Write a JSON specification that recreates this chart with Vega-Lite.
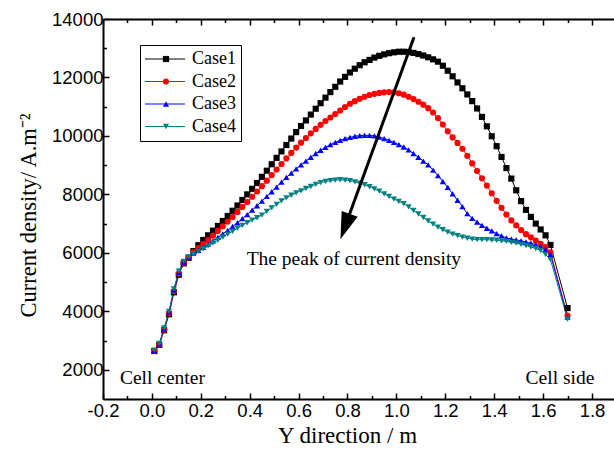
{
  "$schema": "https://vega.github.io/schema/vega-lite/v6.json",
  "autosize": {"type": "none"},
  "width": 511,
  "height": 380,
  "padding": {"left": 103, "top": 19, "right": 0, "bottom": 59},
  "background": "white",
  "config": {"view": {"stroke": null}},
  "datasets": {
    "curves": [
      {"x": 0.01, "Case1": 2640, "Case2": 2650, "Case3": 2660, "Case4": 2670},
      {"x": 0.03, "Case1": 2850, "Case2": 2860, "Case3": 2880, "Case4": 2900},
      {"x": 0.05, "Case1": 3350, "Case2": 3370, "Case3": 3400, "Case4": 3430},
      {"x": 0.07, "Case1": 3900, "Case2": 3930, "Case3": 3970, "Case4": 4000},
      {"x": 0.09, "Case1": 4650, "Case2": 4690, "Case3": 4730, "Case4": 4770},
      {"x": 0.11, "Case1": 5250, "Case2": 5290, "Case3": 5330, "Case4": 5370},
      {"x": 0.13, "Case1": 5640, "Case2": 5660, "Case3": 5680, "Case4": 5710},
      {"x": 0.15, "Case1": 5830, "Case2": 5840, "Case3": 5850, "Case4": 5860},
      {"x": 0.17, "Case1": 6060, "Case2": 6020, "Case3": 5990, "Case4": 5960},
      {"x": 0.19, "Case1": 6260, "Case2": 6160, "Case3": 6090, "Case4": 6050},
      {"x": 0.21, "Case1": 6440, "Case2": 6300, "Case3": 6190, "Case4": 6140},
      {"x": 0.23, "Case1": 6600, "Case2": 6440, "Case3": 6300, "Case4": 6230},
      {"x": 0.25, "Case1": 6760, "Case2": 6590, "Case3": 6410, "Case4": 6330},
      {"x": 0.27, "Case1": 6920, "Case2": 6750, "Case3": 6530, "Case4": 6430},
      {"x": 0.29, "Case1": 7090, "Case2": 6910, "Case3": 6650, "Case4": 6540},
      {"x": 0.31, "Case1": 7260, "Case2": 7070, "Case3": 6770, "Case4": 6640},
      {"x": 0.33, "Case1": 7440, "Case2": 7230, "Case3": 6900, "Case4": 6740},
      {"x": 0.35, "Case1": 7620, "Case2": 7400, "Case3": 7030, "Case4": 6840},
      {"x": 0.37, "Case1": 7810, "Case2": 7570, "Case3": 7170, "Case4": 6940},
      {"x": 0.39, "Case1": 8000, "Case2": 7740, "Case3": 7310, "Case4": 7030},
      {"x": 0.41, "Case1": 8190, "Case2": 7920, "Case3": 7460, "Case4": 7120},
      {"x": 0.43, "Case1": 8390, "Case2": 8100, "Case3": 7610, "Case4": 7200},
      {"x": 0.45, "Case1": 8600, "Case2": 8280, "Case3": 7770, "Case4": 7290},
      {"x": 0.47, "Case1": 8810, "Case2": 8470, "Case3": 7930, "Case4": 7420},
      {"x": 0.49, "Case1": 9030, "Case2": 8660, "Case3": 8090, "Case4": 7540},
      {"x": 0.51, "Case1": 9250, "Case2": 8850, "Case3": 8250, "Case4": 7660},
      {"x": 0.53, "Case1": 9470, "Case2": 9040, "Case3": 8420, "Case4": 7780},
      {"x": 0.55, "Case1": 9690, "Case2": 9230, "Case3": 8580, "Case4": 7880},
      {"x": 0.57, "Case1": 9910, "Case2": 9420, "Case3": 8730, "Case4": 7970},
      {"x": 0.59, "Case1": 10130, "Case2": 9600, "Case3": 8870, "Case4": 8050},
      {"x": 0.61, "Case1": 10340, "Case2": 9770, "Case3": 9010, "Case4": 8120},
      {"x": 0.63, "Case1": 10530, "Case2": 9930, "Case3": 9140, "Case4": 8200},
      {"x": 0.65, "Case1": 10730, "Case2": 10090, "Case3": 9270, "Case4": 8270},
      {"x": 0.67, "Case1": 10930, "Case2": 10240, "Case3": 9400, "Case4": 8340},
      {"x": 0.69, "Case1": 11120, "Case2": 10380, "Case3": 9510, "Case4": 8400},
      {"x": 0.71, "Case1": 11310, "Case2": 10510, "Case3": 9610, "Case4": 8440},
      {"x": 0.73, "Case1": 11500, "Case2": 10630, "Case3": 9700, "Case4": 8470},
      {"x": 0.75, "Case1": 11680, "Case2": 10750, "Case3": 9780, "Case4": 8490},
      {"x": 0.77, "Case1": 11860, "Case2": 10870, "Case3": 9850, "Case4": 8500},
      {"x": 0.79, "Case1": 12020, "Case2": 10990, "Case3": 9910, "Case4": 8490},
      {"x": 0.81, "Case1": 12170, "Case2": 11100, "Case3": 9950, "Case4": 8470},
      {"x": 0.83, "Case1": 12300, "Case2": 11190, "Case3": 9990, "Case4": 8430},
      {"x": 0.85, "Case1": 12420, "Case2": 11270, "Case3": 10010, "Case4": 8380},
      {"x": 0.87, "Case1": 12520, "Case2": 11340, "Case3": 10020, "Case4": 8330},
      {"x": 0.89, "Case1": 12600, "Case2": 11400, "Case3": 10020, "Case4": 8260},
      {"x": 0.91, "Case1": 12680, "Case2": 11440, "Case3": 10000, "Case4": 8190},
      {"x": 0.93, "Case1": 12740, "Case2": 11470, "Case3": 9960, "Case4": 8110},
      {"x": 0.95, "Case1": 12790, "Case2": 11490, "Case3": 9910, "Case4": 8020},
      {"x": 0.97, "Case1": 12830, "Case2": 11500, "Case3": 9850, "Case4": 7930},
      {"x": 0.99, "Case1": 12860, "Case2": 11490, "Case3": 9780, "Case4": 7840},
      {"x": 1.01, "Case1": 12880, "Case2": 11460, "Case3": 9700, "Case4": 7760},
      {"x": 1.03, "Case1": 12880, "Case2": 11410, "Case3": 9620, "Case4": 7680},
      {"x": 1.05, "Case1": 12870, "Case2": 11340, "Case3": 9520, "Case4": 7570},
      {"x": 1.07, "Case1": 12840, "Case2": 11260, "Case3": 9400, "Case4": 7450},
      {"x": 1.09, "Case1": 12800, "Case2": 11170, "Case3": 9270, "Case4": 7330},
      {"x": 1.11, "Case1": 12750, "Case2": 11070, "Case3": 9140, "Case4": 7210},
      {"x": 1.13, "Case1": 12690, "Case2": 10950, "Case3": 9010, "Case4": 7090},
      {"x": 1.15, "Case1": 12620, "Case2": 10800, "Case3": 8830, "Case4": 6980},
      {"x": 1.17, "Case1": 12540, "Case2": 10610, "Case3": 8640, "Case4": 6880},
      {"x": 1.19, "Case1": 12400, "Case2": 10390, "Case3": 8440, "Case4": 6790},
      {"x": 1.21, "Case1": 12230, "Case2": 10160, "Case3": 8240, "Case4": 6710},
      {"x": 1.23, "Case1": 12040, "Case2": 9950, "Case3": 8020, "Case4": 6640},
      {"x": 1.25, "Case1": 11830, "Case2": 9760, "Case3": 7800, "Case4": 6590},
      {"x": 1.27, "Case1": 11630, "Case2": 9560, "Case3": 7580, "Case4": 6540},
      {"x": 1.29, "Case1": 11420, "Case2": 9320, "Case3": 7340, "Case4": 6500},
      {"x": 1.31, "Case1": 11190, "Case2": 9060, "Case3": 7180, "Case4": 6470},
      {"x": 1.33, "Case1": 10940, "Case2": 8800, "Case3": 7050, "Case4": 6450},
      {"x": 1.35, "Case1": 10650, "Case2": 8550, "Case3": 6940, "Case4": 6450},
      {"x": 1.37, "Case1": 10330, "Case2": 8300, "Case3": 6840, "Case4": 6450},
      {"x": 1.39, "Case1": 9990, "Case2": 8040, "Case3": 6750, "Case4": 6440},
      {"x": 1.41, "Case1": 9650, "Case2": 7780, "Case3": 6660, "Case4": 6430},
      {"x": 1.43, "Case1": 9280, "Case2": 7540, "Case3": 6580, "Case4": 6410},
      {"x": 1.45, "Case1": 8900, "Case2": 7310, "Case3": 6510, "Case4": 6390},
      {"x": 1.47, "Case1": 8540, "Case2": 7110, "Case3": 6470, "Case4": 6360},
      {"x": 1.49, "Case1": 8140, "Case2": 6940, "Case3": 6440, "Case4": 6330},
      {"x": 1.51, "Case1": 7770, "Case2": 6780, "Case3": 6410, "Case4": 6290},
      {"x": 1.53, "Case1": 7470, "Case2": 6640, "Case3": 6370, "Case4": 6250},
      {"x": 1.55, "Case1": 7230, "Case2": 6530, "Case3": 6330, "Case4": 6200},
      {"x": 1.57, "Case1": 7000, "Case2": 6420, "Case3": 6280, "Case4": 6150},
      {"x": 1.59, "Case1": 6800, "Case2": 6310, "Case3": 6210, "Case4": 6080},
      {"x": 1.61, "Case1": 6600, "Case2": 6200, "Case3": 6120, "Case4": 5950},
      {"x": 1.63, "Case1": 6270, "Case2": 6020, "Case3": 5950, "Case4": 5770},
      {"x": 1.70, "Case1": 4110, "Case2": 3850, "Case3": 3800, "Case4": 3730}
    ],
    "arrow": [
      {"x": 1.072, "y": 13374, "x2": 0.79, "y2": 6900, "angle": 20}
    ],
    "notes": [
      {"x": 0.043, "y": 1520, "label": "Cell center"},
      {"x": 1.669, "y": 1520, "label": "Cell side"},
      {"x": 0.826, "y": 5600, "label": "The peak of current density"}
    ]
  },
  "resolve": {
    "axis": {"x": "independent", "y": "independent"},
    "legend": {"color": "independent", "shape": "independent"}
  },
  "layer": [
    {
      "data": {"name": "curves"},
      "transform": [{"fold": ["Case1", "Case2", "Case3", "Case4"], "as": ["series", "y"]}],
      "mark": {"type": "line", "strokeWidth": 1},
      "encoding": {
        "x": {
          "field": "x", "type": "quantitative",
          "scale": {"domain": [-0.2, 1.89], "nice": false, "zero": false},
          "axis": {
            "orient": "bottom",
            "values": [-0.2, 0, 0.2, 0.4, 0.6, 0.8, 1.0, 1.2, 1.4, 1.6, 1.8],
            "labelExpr": "replace(format(datum.value, '.1f'), '\u2212', '-')",
            "labelFont": "Liberation Sans", "labelFontSize": 18.5, "labelColor": "black",
            "labelPadding": 8, "labelFlush": false, "labelOverlap": false,
            "tickSize": -6, "tickWidth": 1.5, "tickColor": "black",
            "domainColor": "black", "domainWidth": 2, "grid": false,
            "title": "Y direction / m", "titleFont": "Liberation Serif", "titleFontSize": 23,
            "titleFontWeight": "normal", "titleColor": "black", "titlePadding": 5, "titleX": 244
          }
        },
        "y": {
          "field": "y", "type": "quantitative",
          "scale": {"domain": [1000, 14000], "nice": false, "zero": false},
          "axis": {
            "orient": "left",
            "values": [2000, 4000, 6000, 8000, 10000, 12000, 14000],
            "format": "d",
            "labelFont": "Liberation Sans", "labelFontSize": 18.5, "labelColor": "black",
            "labelPadding": 6, "labelFlush": false, "labelOverlap": false,
            "tickSize": -6, "tickWidth": 1.5, "tickColor": "black",
            "domainColor": "black", "domainWidth": 2, "grid": false,
            "title": "Current density/ A.m\u207b\u00b2", "titleFont": "Liberation Serif", "titleFontSize": 22.5,
            "titleFontWeight": "normal", "titleColor": "black", "titlePadding": 11, "titleY": 196
          }
        },
        "color": {
          "field": "series", "type": "nominal",
          "scale": {"domain": ["Case1", "Case2", "Case3", "Case4"], "range": ["#000000", "#ff0000", "#0000ff", "#008080"]},
          "legend": {
            "orient": "none", "legendX": 37, "legendY": 26, "title": null,
            "symbolType": "M-1.8,0L6.2,0", "symbolSize": 100, "symbolStrokeWidth": 1.2,
            "labelFont": "Liberation Serif", "labelFontSize": 18, "labelColor": "black", "labelOffset": 29,
            "strokeColor": "black", "fillColor": "white", "padding": 5, "rowPadding": 4.5
          }
        }
      }
    },
    {
      "data": {"name": "curves"},
      "transform": [{"fold": ["Case1", "Case2", "Case3", "Case4"], "as": ["series", "y"]}],
      "mark": {"type": "point", "filled": true, "size": 38, "opacity": 1},
      "encoding": {
        "x": {
          "field": "x", "type": "quantitative",
          "scale": {"domain": [-0.2, 1.89], "nice": false, "zero": false},
          "axis": {
            "orient": "bottom",
            "values": [-0.1, 0.1, 0.3, 0.5, 0.7, 0.9, 1.1, 1.3, 1.5, 1.7],
            "labels": false, "domain": false, "grid": false,
            "tickSize": -3.5, "tickWidth": 1.5, "tickColor": "black", "title": null
          }
        },
        "y": {
          "field": "y", "type": "quantitative",
          "scale": {"domain": [1000, 14000], "nice": false, "zero": false},
          "axis": {
            "orient": "left",
            "values": [3000, 5000, 7000, 9000, 11000, 13000],
            "labels": false, "domain": false, "grid": false,
            "tickSize": -3.5, "tickWidth": 1.5, "tickColor": "black", "title": null
          }
        },
        "order": {"field": "series"},
        "color": {
          "field": "series", "type": "nominal",
          "scale": {"domain": ["Case1", "Case2", "Case3", "Case4"], "range": ["#000000", "#ff0000", "#0000ff", "#008080"]},
          "legend": {
            "orient": "none", "legendX": 49, "legendY": 26, "title": null,
            "symbolSize": 38, "labelFontSize": 18, "labelExpr": "''", "padding": 5, "rowPadding": 4.5
          }
        },
        "shape": {
          "field": "series", "type": "nominal",
          "scale": {"domain": ["Case1", "Case2", "Case3", "Case4"], "range": ["square", "circle", "triangle-up", "triangle-down"]},
          "legend": {
            "orient": "none", "legendX": 49, "legendY": 26, "title": null,
            "symbolSize": 38, "labelFontSize": 18, "labelExpr": "''", "padding": 5, "rowPadding": 4.5
          }
        }
      }
    },
    {
      "data": {"name": "arrow"},
      "mark": {"type": "rule", "strokeWidth": 3, "color": "black"},
      "encoding": {
        "x": {
          "field": "x", "type": "quantitative",
          "scale": {"domain": [-0.2, 1.89], "nice": false, "zero": false},
          "axis": {
            "orient": "top",
            "values": [-0.2, 0, 0.2, 0.4, 0.6, 0.8, 1.0, 1.2, 1.4, 1.6, 1.8],
            "labels": false, "grid": false,
            "tickSize": -6, "tickWidth": 1.5, "tickColor": "black",
            "domainColor": "black", "domainWidth": 2, "title": null
          }
        },
        "y": {
          "field": "y", "type": "quantitative",
          "scale": {"domain": [1000, 14000], "nice": false, "zero": false},
          "axis": null
        },
        "x2": {"field": "x2"},
        "y2": {"field": "y2"}
      }
    },
    {
      "data": {"name": "arrow"},
      "mark": {"type": "point", "shape": "M0,1L-0.63,-1L0.63,-1Z", "filled": true, "size": 729, "color": "black", "opacity": 1},
      "encoding": {
        "x": {
          "field": "x2", "type": "quantitative",
          "scale": {"domain": [-0.2, 1.89], "nice": false, "zero": false},
          "axis": {
            "orient": "top",
            "values": [-0.1, 0.1, 0.3, 0.5, 0.7, 0.9, 1.1, 1.3, 1.5, 1.7],
            "labels": false, "domain": false, "grid": false,
            "tickSize": -3.5, "tickWidth": 1.5, "tickColor": "black", "title": null
          }
        },
        "y": {
          "field": "y2", "type": "quantitative",
          "scale": {"domain": [1000, 14000], "nice": false, "zero": false},
          "axis": null
        },
        "angle": {"field": "angle", "type": "quantitative", "scale": null}
      }
    },
    {
      "data": {"name": "notes"},
      "mark": {"type": "text", "font": "Liberation Serif", "fontSize": 19.5, "color": "black", "align": "center", "baseline": "alphabetic"},
      "encoding": {
        "x": {
          "field": "x", "type": "quantitative",
          "scale": {"domain": [-0.2, 1.89], "nice": false, "zero": false},
          "axis": null
        },
        "y": {
          "field": "y", "type": "quantitative",
          "scale": {"domain": [1000, 14000], "nice": false, "zero": false},
          "axis": null
        },
        "text": {"field": "label"}
      }
    }
  ]
}
